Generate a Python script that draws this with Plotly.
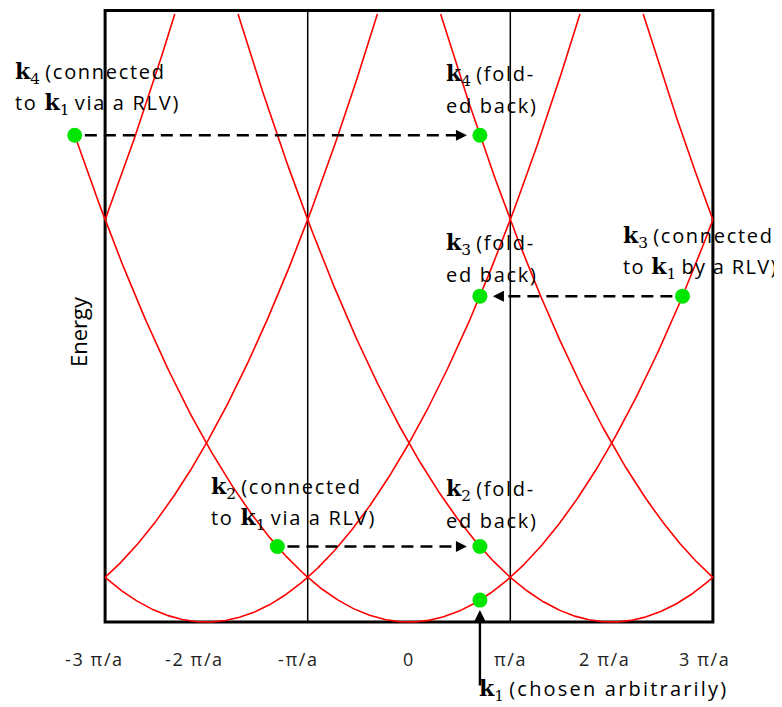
import numpy as np
import plotly.graph_objects as go

# ---------------- data (k in units of pi/a, energy in units of (hbar pi/a)^2/2m) ----------------
G_CENTERS = [-6, -4, -2, 0, 2, 4, 6]          # reciprocal lattice vectors (pi/a)
K_MIN, K_MAX = -3, 3                          # plotted range (three zones)
E_MAX = 13.6                                  # energy cut-off at top of frame
E_TOP = 13.68                                 # frame top
ZONE_LINES = [-1, 1]                          # first Brillouin zone boundaries
K1 = 0.7                                      # k1 chosen arbitrarily
K_EXTEND = -3.3                               # free-electron parabola drawn out to k4

# points: name, k position, parabola centre
PT_NAMES = ["k1", "k2", "k2f", "k3", "k3f", "k4", "k4f"]
PT_K = [K1, K1 - 2, K1, K1 + 2, K1, K1 - 4, K1]
PT_G = [0, 0, 2, 0, -2, 0, 4]

TICK_VALS = [-3, -2, -1, 0, 1, 2, 3]
TICK_TEXT = ["-3 π/a", "-2 π/a", "-π/a", "0", "π/a", "2 π/a", "3 π/a"]
TICK_SHIFT = [-11, -12, -9, 0, 0, -7, -8]

# ---------------- pixel mapping (page pixels; the plot div sits 8px in from the corner) ----------------
OFF = 8
W, H = 782 - OFF, 707 - OFF
X0PX, XSC = 409.0 - OFF, 101.3
Y0PX, YSC = 622.0 - OFF, 44.7
xr = [(0 - X0PX) / XSC, (W - X0PX) / XSC]
yr = [(Y0PX - H) / YSC, (Y0PX - 0) / YSC]

def px_k(px):
    return (px - OFF - X0PX) / XSC

def px_e(py):
    return (Y0PX - (py - OFF)) / YSC

RED = "#ff0000"
GREEN = "#00e600"
TXT_FONT = "Open Sans"
K_FONT = "DejaVu Serif"

fig = go.Figure()

def energy(k, g):
    return (np.asarray(k) - g) ** 2

# parabolas
for g in G_CENTERS:
    lo = max(K_MIN, g - np.sqrt(E_MAX))
    hi = min(K_MAX, g + np.sqrt(E_MAX))
    if g == 0:
        lo = K_EXTEND
    if lo >= hi:
        continue
    k = np.linspace(lo, hi, 400)
    fig.add_trace(go.Scatter(x=k, y=energy(k, g), mode="lines",
                             line=dict(color=RED, width=1.6),
                             hoverinfo="skip", showlegend=False))

pt_E = [float(energy(k, g)) for k, g in zip(PT_K, PT_G)]
P = dict(zip(PT_NAMES, zip(PT_K, pt_E)))

# dashed connector lines (drawn as shapes) + arrowheads
def dashed(src, dst):
    ks, es = P[src]
    kd, ed = P[dst]
    sgn = 1 if kd > ks else -1
    fig.add_shape(type="line", x0=ks + sgn * 0.1, x1=kd - sgn * 0.22, y0=es, y1=ed,
                  line=dict(color="black", width=2.5, dash="12px,7px"), layer="above")
    fig.add_annotation(x=kd, y=ed, ax=-sgn * 24, ay=0, text="", showarrow=True,
                       arrowhead=2, arrowsize=1, arrowwidth=2.2, arrowcolor="black",
                       standoff=13)

dashed("k4", "k4f")
dashed("k3", "k3f")
dashed("k2", "k2f")

# k1 vertical arrow
fig.add_annotation(x=P["k1"][0], y=P["k1"][1], ax=0, ay=87, text="", showarrow=True,
                   arrowhead=2, arrowsize=1, arrowwidth=2.4, arrowcolor="black", standoff=10)

# green points
fig.add_trace(go.Scatter(x=PT_K, y=pt_E, mode="markers",
                         marker=dict(color=GREEN, size=15, line=dict(width=0)),
                         cliponaxis=False, hoverinfo="skip", showlegend=False))

# frame and zone boundaries
fig.add_shape(type="rect", x0=K_MIN, x1=K_MAX, y0=0, y1=E_TOP,
              line=dict(color="black", width=3), layer="below")
for zl in ZONE_LINES:
    fig.add_shape(type="line", x0=zl, x1=zl, y0=0, y1=E_TOP,
                  line=dict(color="black", width=1.5), layer="below")

def spaced(t, ls):
    return f'<span style="letter-spacing:{ls}px">{t}</span>'

# tick labels
for v, t, s in zip(TICK_VALS, TICK_TEXT, TICK_SHIFT):
    fig.add_annotation(x=v, y=px_e(659), text=spaced(t, 1.6), showarrow=False, xshift=s,
                       font=dict(family=TXT_FONT, size=18, color="#222"),
                       xanchor="center", yanchor="middle")

fig.add_annotation(x=px_k(78), y=px_e(332), text="Energy",
                   textangle=-90, showarrow=False,
                   font=dict(family=TXT_FONT, size=22, color="black"))

def kb(n):
    return f'<span style="font-family:{K_FONT};font-size:22px"><b>k</b><sub>{n}</sub></span>'

LS = 1.7
LABELS = [
    (13, 73, kb(4) + " " + spaced("(connected", LS)),
    (13, 104, spaced("to ", LS) + kb(1) + " " + spaced("via a RLV)", LS)),
    (444, 75, kb(4) + " " + spaced("(fold-", LS)),
    (444, 105, spaced("ed back)", LS)),
    (444, 244, kb(3) + " " + spaced("(fold-", LS)),
    (444, 274, spaced("ed back)", LS)),
    (621, 237, kb(3) + " " + spaced("(connected", LS)),
    (621, 268, spaced("to ", 1.3) + kb(1) + " " + spaced("by a RLV)", 1.3)),
    (209, 488, kb(2) + " " + spaced("(connected", LS)),
    (209, 519, spaced("to ", LS) + kb(1) + " " + spaced("via a RLV)", LS)),
    (444, 490, kb(2) + " " + spaced("(fold-", LS)),
    (444, 520, spaced("ed back)", LS)),
    (477, 690, kb(1) + " " + spaced("(chosen arbitrarily)", 2.2)),
]
for px, py, t in LABELS:
    fig.add_annotation(x=px_k(px), y=px_e(py), text=t, showarrow=False,
                       xanchor="left", yanchor="middle",
                       font=dict(family=TXT_FONT, size=20, color="black"))

fig.update_layout(width=W, height=H, margin=dict(l=0, r=0, t=0, b=0),
                  paper_bgcolor="white", plot_bgcolor="white",
                  xaxis=dict(range=xr, visible=False, fixedrange=True),
                  yaxis=dict(range=yr, visible=False, fixedrange=True))

fig.write_html("out.html")
